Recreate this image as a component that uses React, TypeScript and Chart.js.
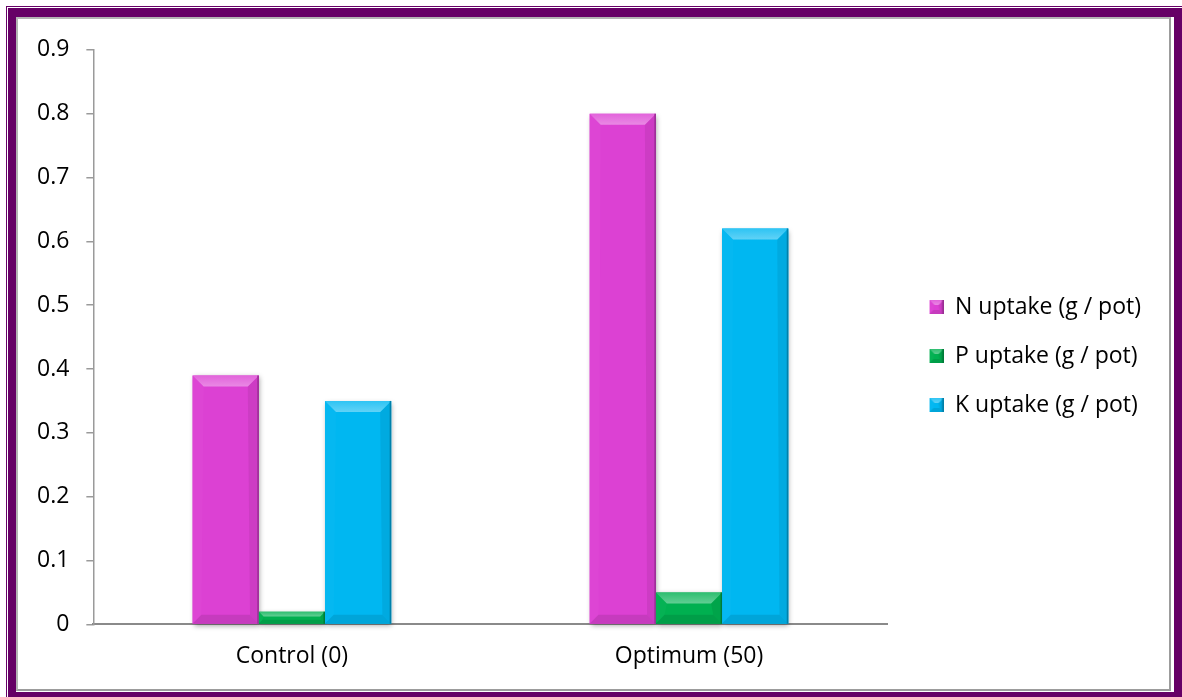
import { useEffect, useRef } from 'react';
import { Chart, registerables } from 'chart.js';

Chart.register(...registerables);

// Chart data
const categories = ['Control (0)', 'Optimum (50)'];
const seriesNames = ['N uptake (g / pot)', 'P uptake (g / pot)', 'K uptake (g / pot)'];
const nUptake = [0.39, 0.8];
const pUptake = [0.02, 0.05];
const kUptake = [0.35, 0.62];
const seriesColors = ['#DC41D3', '#00B050', '#00B7F1'];
const yMin = 0;
const yMax = 0.9;
const yStep = 0.1;

const FRAME = '#660066';
const FONT = "'Open Sans', sans-serif";

function hexToRgb(hex: string): number[] {
  const n = parseInt(hex.slice(1), 16);
  return [(n >> 16) & 255, (n >> 8) & 255, n & 255];
}
function mix(hex: string, target: number, t: number): string {
  const c = hexToRgb(hex).map((v) => Math.round(v + (target - v) * t));
  return `rgb(${c[0]},${c[1]},${c[2]})`;
}
const lighten = (h: string, t: number) => mix(h, 255, t);
const darken = (h: string, t: number) => mix(h, 0, t);

function poly(ctx: CanvasRenderingContext2D, pts: number[][], fill: string | CanvasGradient) {
  ctx.beginPath();
  ctx.moveTo(pts[0][0], pts[0][1]);
  for (let i = 1; i < pts.length; i++) ctx.lineTo(pts[i][0], pts[i][1]);
  ctx.closePath();
  ctx.fillStyle = fill;
  ctx.fill();
}

// Draws bevelled faces on a rectangle (bars and legend swatches)
function bevel(ctx: CanvasRenderingContext2D, l: number, t: number, r: number, b: number, color: string, size: number) {
  const h = b - t;
  const w = r - l;
  const bv = Math.max(1, Math.min(size, h * 0.4, w * 0.45));
  const bb = bv * 0.8;
  // left and right faces
  poly(ctx, [[l, t], [l + bv, t + bv], [l + bb, b - bb], [l, b]], lighten(color, 0.02));
  poly(ctx, [[r, t], [r - bv, t + bv], [r - bb, b - bb], [r, b]], darken(color, 0.07));
  // top face
  const g = ctx.createLinearGradient(0, t, 0, t + bv);
  g.addColorStop(0, lighten(color, 0.18));
  g.addColorStop(1, lighten(color, 0.38));
  poly(ctx, [[l, t], [r, t], [r - bv, t + bv], [l + bv, t + bv]], g);
  // bottom face
  poly(ctx, [[l, b], [r, b], [r - bb, b - bb], [l + bb, b - bb]], darken(color, 0.1));
  // dark right rim
  poly(ctx, [[r - 1.5, t], [r, t], [r, b], [r - 1.5, b]], darken(color, 0.3));
}

const bevelPlugin = {
  id: 'bevelBars',
  beforeDatasetsDraw(chart: any) {
    const ctx = chart.ctx as CanvasRenderingContext2D;
    ctx.save();
    ctx.shadowColor = 'rgba(0,0,0,0.35)';
    ctx.shadowBlur = 5;
    ctx.shadowOffsetX = 1;
    ctx.shadowOffsetY = 2;
  },
  afterDatasetsDraw(chart: any) {
    const ctx = chart.ctx as CanvasRenderingContext2D;
    ctx.restore();
    chart.data.datasets.forEach((_: any, di: number) => {
      const meta = chart.getDatasetMeta(di);
      const color = seriesColors[di];
      meta.data.forEach((el: any) => {
        const { x, y, base, width } = el.getProps(['x', 'y', 'base', 'width'], true);
        const l = x - width / 2;
        const r = x + width / 2;
        const t = Math.min(y, base);
        const b = Math.max(y, base);
        bevel(ctx, l, t, r, b, color, 11);
      });
    });
  },
};

// Lifts the legend block slightly above the canvas centre line
const legendLift = {
  id: 'legendLift',
  afterLayout(chart: any) {
    const lg = chart.legend;
    if (!lg) return;
    lg.top -= 12;
    lg.bottom -= 12;
  },
};

function legendIcon(color: string): HTMLCanvasElement {
  const c = document.createElement('canvas');
  c.width = 30;
  c.height = 14;
  const ctx = c.getContext('2d') as CanvasRenderingContext2D;
  ctx.fillStyle = color;
  ctx.fillRect(16, 0, 14, 14);
  bevel(ctx, 16, 0, 30, 14, color, 5);
  return c;
}

export default function App() {
  const canvasRef = useRef<HTMLCanvasElement | null>(null);

  useEffect(() => {
    const canvas = canvasRef.current;
    if (!canvas) return;
    Chart.defaults.font.family = FONT;
    Chart.defaults.color = '#000';
    const icons = seriesColors.map(legendIcon);
    const values = [nUptake, pUptake, kUptake];

    const chart = new Chart(canvas, {
      type: 'bar',
      data: {
        labels: categories,
        datasets: seriesNames.map((name, i) => ({
          label: name,
          data: values[i],
          backgroundColor: seriesColors[i],
          borderWidth: 0,
          categoryPercentage: 0.5,
          barPercentage: 1,
          clip: false as any,
        })),
      },
      options: {
        animation: false,
        responsive: false,
        maintainAspectRatio: false,
        devicePixelRatio: 1,
        layout: { padding: { top: 29, bottom: 1, left: 2, right: 18 } },
        plugins: {
          tooltip: { enabled: false },
          legend: {
            position: 'right',
            align: 'center',
            labels: {
              usePointStyle: true,
              pointStyleWidth: 30,
              boxHeight: 14,
              padding: 26,
              color: '#000',
              font: { size: 23, family: FONT },
              generateLabels: (c: any) =>
                Chart.defaults.plugins.legend.labels
                  .generateLabels(c)
                  .map((item: any, i: number) => ({ ...item, pointStyle: icons[i] })),
            },
          },
        },
        scales: {
          x: {
            grid: { display: false, drawTicks: false },
            border: { display: true, color: '#8a8a8a', width: 2 },
            ticks: { padding: 18, color: '#000', font: { size: 23, family: FONT } },
          },
          y: {
            min: yMin,
            max: yMax,
            ticks: { stepSize: yStep, padding: 17, color: '#000', font: { size: 23, family: FONT } },
            grid: { drawOnChartArea: false, drawTicks: true, tickLength: 7, color: '#9a9a9a', lineWidth: 1.5 },
            border: { color: '#9a9a9a', width: 1.5 },
          },
        },
      } as any,
      plugins: [bevelPlugin, legendLift],
    });
    return () => chart.destroy();
  }, []);

  return (
    <div style={{ position: 'fixed', left: 0, top: 0, width: 1182, height: 697, background: '#fff', overflow: 'hidden' }}>
      <div
        style={{
          position: 'absolute', left: 6, top: 6, width: 1176, height: 691, boxSizing: 'border-box',
          borderTop: `1.5px solid ${FRAME}`, borderLeft: `1.5px solid ${FRAME}`,
        }}
      />
      <div
        style={{
          position: 'absolute', left: 8, top: 8, width: 1174, height: 689, boxSizing: 'border-box',
          borderStyle: 'solid', borderColor: FRAME, borderWidth: '9px 8px 5px 8px',
        }}
      />
      <div
        style={{
          position: 'absolute', left: 16, top: 17, width: 1155, height: 674, boxSizing: 'border-box',
          border: '2px solid #9c9c9c', borderLeftColor: '#b4b4b4', borderTopColor: '#b4b4b4', background: '#fff',
        }}
      />
      <canvas
        ref={canvasRef}
        width={1151}
        height={670}
        style={{ position: 'absolute', left: 18, top: 19, width: 1151, height: 670, display: 'block' }}
      />
    </div>
  );
}
